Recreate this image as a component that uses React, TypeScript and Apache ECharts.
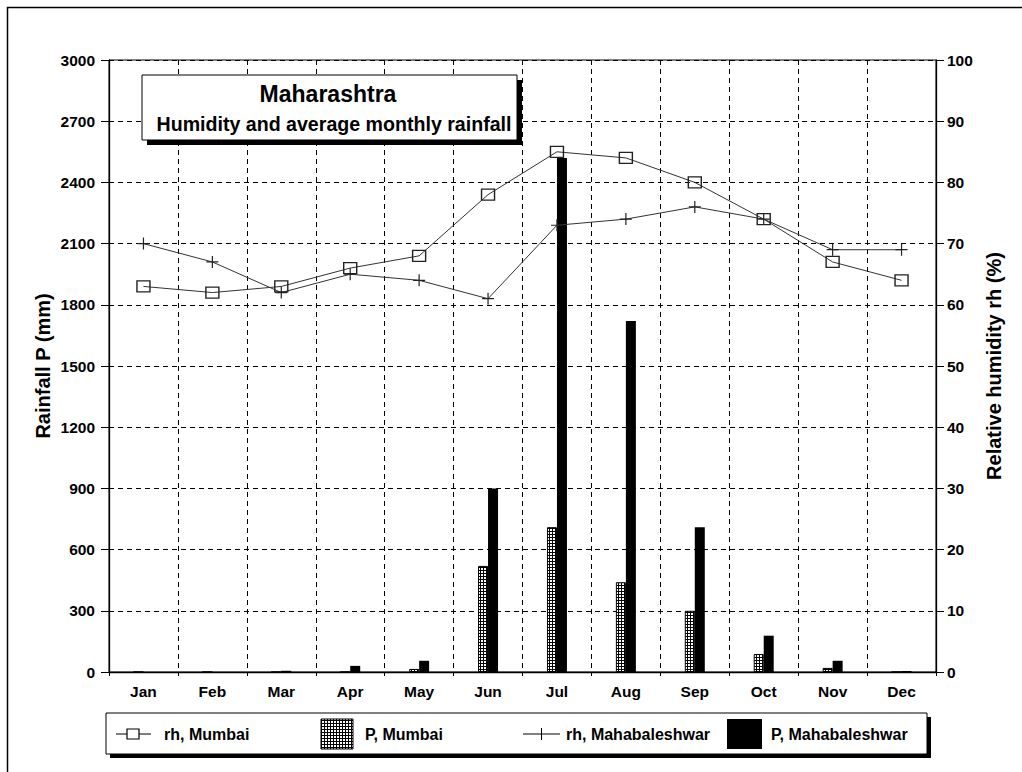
import React, { useEffect, useRef } from "react";
import * as echarts from "echarts";

const months = ["Jan", "Feb", "Mar", "Apr", "May", "Jun", "Jul", "Aug", "Sep", "Oct", "Nov", "Dec"];
const rainMumbai = [0, 0, 0, 0, 15, 520, 710, 440, 300, 88, 20, 0];
const rainMahabaleshwar = [0, 0, 6, 30, 55, 900, 2520, 1720, 710, 178, 55, 5];
const rhMumbai = [63, 62, 63, 66, 68, 78, 85, 84, 80, 74, 67, 64];
const rhMahabaleshwar = [70, 67, 62, 65, 64, 61, 73, 74, 76, 74, 69, 69];

const titleMain = "Maharashtra";
const titleSub = "Humidity and average monthly rainfall";
const leftAxisName = "Rainfall P (mm)";
const rightAxisName = "Relative humidity rh (%)";

const FONT = "Liberation Sans, Arial, sans-serif";

function makeHatch(): string {
  const c = document.createElement("canvas");
  c.width = 3;
  c.height = 3;
  const ctx = c.getContext("2d")!;
  ctx.fillStyle = "#fff";
  ctx.fillRect(0, 0, 3, 3);
  ctx.fillStyle = "#000";
  ctx.fillRect(0, 0, 3, 1);
  ctx.fillRect(0, 0, 1, 3);
  return c.toDataURL();
}

export default function App() {
  const ref = useRef<HTMLDivElement>(null);
  useEffect(() => {
    if (!ref.current) return;
    const chart = echarts.init(ref.current, null, { renderer: "svg" });
    const hatch = { image: makeHatch(), repeat: "repeat" } as any;
    const labelStyle = { color: "#000", fontFamily: FONT, fontWeight: "bold" as const, fontSize: 15.5 };
    const plusPath = "path://M0 5H10M5 0V10";
    chart.setOption({
      animation: false,
      backgroundColor: "#fff",
      grid: {
        left: 109,
        right: 86,
        top: 60,
        bottom: 100,
        show: true,
        borderColor: "#000",
        borderWidth: 1,
        backgroundColor: "transparent",
      },
      xAxis: {
        type: "category",
        data: months,
        boundaryGap: true,
        axisLine: { lineStyle: { color: "#000", width: 1.3 } },
        axisTick: { show: true, length: 7, lineStyle: { color: "#000", type: [4, 3] } },
        axisLabel: { ...labelStyle, margin: 11 },
        splitLine: { show: true, lineStyle: { color: "#000", type: [5, 4], width: 1 } },
      },
      yAxis: [
        {
          type: "value",
          min: 0,
          max: 3000,
          interval: 300,
          axisLine: { show: true, lineStyle: { color: "#000", width: 1.3 } },
          axisTick: { show: true, length: 8, lineStyle: { color: "#000" } },
          axisLabel: { ...labelStyle, margin: 14, formatter: (v: number) => String(v) },
          splitLine: { show: true, lineStyle: { color: "#000", type: [5, 4], width: 1 } },
        },
        {
          type: "value",
          min: 0,
          max: 100,
          interval: 10,
          position: "right",
          axisLine: { show: true, lineStyle: { color: "#000", width: 1.3 } },
          axisTick: { show: true, length: 8, lineStyle: { color: "#000" } },
          axisLabel: { ...labelStyle, margin: 11, formatter: (v: number) => String(v) },
          splitLine: { show: false },
        },
      ],
      series: [
        {
          name: "P, Mumbai",
          type: "bar",
          yAxisIndex: 0,
          data: rainMumbai,
          barWidth: 10,
          barGap: "0%",
          itemStyle: { color: hatch, borderColor: "#000", borderWidth: 1 },
        },
        {
          name: "P, Mahabaleshwar",
          type: "bar",
          yAxisIndex: 0,
          data: rainMahabaleshwar,
          barWidth: 10,
          barGap: "0%",
          itemStyle: { color: "#000" },
        },
        {
          name: "rh, Mumbai",
          type: "line",
          yAxisIndex: 1,
          data: rhMumbai,
          symbol: "rect",
          symbolSize: [13, 11],
          showSymbol: true,
          lineStyle: { color: "#333", width: 1 },
          itemStyle: { color: "rgba(0,0,0,0)", borderColor: "#222", borderWidth: 1.3 },
          z: 5,
        },
        {
          name: "rh, Mahabaleshwar",
          type: "line",
          yAxisIndex: 1,
          data: rhMahabaleshwar,
          symbol: plusPath,
          symbolSize: 12,
          showSymbol: true,
          lineStyle: { color: "#333", width: 1 },
          itemStyle: { color: "#222", borderColor: "#222", borderWidth: 1.2 },
          z: 5,
        },
      ],
      graphic: [
        // outer frame
        { type: "rect", shape: { x: 7.5, y: 7.5, width: 1100, height: 900 }, style: { fill: "none", stroke: "#000", lineWidth: 1.5 }, silent: true },
        // title box
        { type: "rect", shape: { x: 147, y: 80, width: 375, height: 65 }, style: { fill: "#000" }, z: 10 },
        { type: "rect", shape: { x: 142, y: 75, width: 375, height: 65 }, style: { fill: "#fff", stroke: "#000", lineWidth: 1 }, z: 11 },
        { type: "text", x: 328, y: 94, style: { text: titleMain, font: `bold 23px ${FONT}`, fill: "#000", align: "center", verticalAlign: "middle" }, z: 12 },
        { type: "text", x: 334, y: 124, style: { text: titleSub, font: `bold 19.6px ${FONT}`, fill: "#000", align: "center", verticalAlign: "middle" }, z: 12 },
        // axis names
        { type: "text", x: 43, y: 366, rotation: Math.PI / 2, style: { text: leftAxisName, font: `bold 20px ${FONT}`, fill: "#000", align: "center", verticalAlign: "middle" } },
        { type: "text", x: 994, y: 366, rotation: Math.PI / 2, style: { text: rightAxisName, font: `bold 20px ${FONT}`, fill: "#000", align: "center", verticalAlign: "middle" } },
        // legend box
        { type: "rect", shape: { x: 110, y: 717, width: 821, height: 41 }, style: { fill: "#000" }, z: 10 },
        { type: "rect", shape: { x: 106, y: 713, width: 821, height: 41 }, style: { fill: "#fff", stroke: "#000", lineWidth: 1 }, z: 11 },
        // legend: rh Mumbai
        { type: "line", shape: { x1: 116, y1: 734, x2: 151, y2: 734 }, style: { stroke: "#000", lineWidth: 1 }, z: 12 },
        { type: "rect", shape: { x: 127, y: 729, width: 12, height: 10 }, style: { fill: "#fff", stroke: "#000", lineWidth: 1.2 }, z: 13 },
        { type: "text", x: 164, y: 734, style: { text: "rh, Mumbai", font: `bold 16px ${FONT}`, fill: "#000", verticalAlign: "middle" }, z: 12 },
        // legend: P Mumbai
        { type: "rect", shape: { x: 321, y: 719, width: 32, height: 30 }, style: { fill: hatch, stroke: "#000", lineWidth: 1 }, z: 12 },
        { type: "text", x: 365, y: 734, style: { text: "P, Mumbai", font: `bold 16px ${FONT}`, fill: "#000", verticalAlign: "middle" }, z: 12 },
        // legend: rh Mahabaleshwar
        { type: "line", shape: { x1: 523, y1: 734, x2: 560, y2: 734 }, style: { stroke: "#000", lineWidth: 1 }, z: 12 },
        { type: "line", shape: { x1: 541.5, y1: 728, x2: 541.5, y2: 740 }, style: { stroke: "#000", lineWidth: 1 }, z: 12 },
        { type: "text", x: 566, y: 734, style: { text: "rh, Mahabaleshwar", font: `bold 16px ${FONT}`, fill: "#000", verticalAlign: "middle" }, z: 12 },
        // legend: P Mahabaleshwar
        { type: "rect", shape: { x: 727, y: 719, width: 35, height: 30 }, style: { fill: "#000" }, z: 12 },
        { type: "text", x: 771, y: 734, style: { text: "P, Mahabaleshwar", font: `bold 16px ${FONT}`, fill: "#000", verticalAlign: "middle" }, z: 12 },
      ],
    });
    return () => chart.dispose();
  }, []);
  return (
    <div
      ref={ref}
      style={{ position: "fixed", left: 0, top: 0, width: 1022, height: 772, background: "#fff" }}
    />
  );
}
